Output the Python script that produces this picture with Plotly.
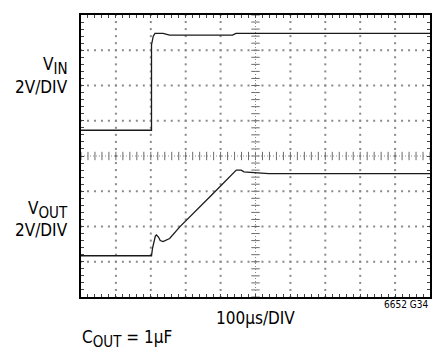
import numpy as np
import plotly.graph_objects as go

# Scope capture: time in microseconds (100 us/div), traces in screen divisions (2 V/div)
t_vin_us = [0, 202, 202, 205, 207, 212, 235, 254, 434, 444, 1000]
vin_div = [4.73, 4.73, 7.15, 7.29, 7.40, 7.48, 7.48, 7.43, 7.43, 7.48, 7.48]

t_vout_us = [0, 202, 205, 209, 213, 216, 222, 227, 235, 254, 283, 373, 434, 445,
             459, 467, 496, 538, 1000]
vout_div = [1.17, 1.17, 1.39, 1.62, 1.73, 1.76, 1.70, 1.60, 1.57, 1.66, 1.99, 2.88,
            3.50, 3.60, 3.60, 3.55, 3.53, 3.50, 3.50]

x_divs = 10
y_divs = 8
minor = 0.2

label_font = "DejaVu Sans Condensed, Liberation Sans Narrow, Arial Narrow, sans-serif"

L, R, T, B = 81, 2, 15, 55
W, H = 434, 352
pw, ph = W - L - R, H - T - B


def px_x(px):
    return (px - L) / pw


def px_y(py):
    return (H - B - py) / ph


def sub(base, s, size=15):
    return f"{base}<sub><span style='font-size:{size}px'>{s}</span></sub>"


fig = go.Figure()

# graticule dots along major divisions
xs_minor = np.round(np.arange(0, x_divs * 100 + 1e-6, minor * 100), 6)
ys_minor = np.round(np.arange(0, y_divs + 1e-6, minor), 6)
gx, gy = [], []
for xv in range(1, x_divs):
    if xv == x_divs // 2:
        continue
    gx += [xv * 100] * len(ys_minor)
    gy += list(ys_minor)
for yv in range(1, y_divs):
    if yv == y_divs // 2:
        continue
    gx += list(xs_minor)
    gy += [yv] * len(xs_minor)
fig.add_trace(go.Scatter(x=gx, y=gy, mode="markers", hoverinfo="skip",
                         marker=dict(symbol="square", size=2, color="#8a8a8a",
                                     line=dict(width=0))))

# centre cross with minor tick marks
cx = x_divs // 2 * 100
cy = y_divs // 2
fig.add_trace(go.Scatter(x=list(xs_minor), y=[cy] * len(xs_minor), mode="markers",
                         hoverinfo="skip",
                         marker=dict(symbol="line-ns", size=6,
                                     line=dict(width=1, color="#6a6a6a"))))
fig.add_trace(go.Scatter(x=[cx] * len(ys_minor), y=list(ys_minor), mode="markers",
                         hoverinfo="skip",
                         marker=dict(symbol="line-ew", size=6,
                                     line=dict(width=1, color="#6a6a6a"))))
fig.add_trace(go.Scatter(x=[0, x_divs * 100], y=[cy, cy], mode="lines",
                         hoverinfo="skip",
                         line=dict(color="#8a8a8a", width=1, dash="1px,2px")))
fig.add_trace(go.Scatter(x=[cx, cx], y=[0, y_divs], mode="lines",
                         hoverinfo="skip",
                         line=dict(color="#8a8a8a", width=1, dash="1px,2px")))

# signal traces
fig.add_trace(go.Scatter(x=t_vin_us, y=vin_div, mode="lines",
                         line=dict(color="#1a1a1a", width=1.3)))
fig.add_trace(go.Scatter(x=t_vout_us, y=vout_div, mode="lines",
                         line=dict(color="#1a1a1a", width=1.3)))

axis_common = dict(showgrid=False, zeroline=False, showline=True, linewidth=2,
                   linecolor="black", mirror="ticks", ticks="inside", ticklen=3,
                   tickwidth=1, tickcolor="#444", showticklabels=False)
fig.update_xaxes(range=[0, x_divs * 100], dtick=minor * 100, tick0=0, **axis_common)
fig.update_yaxes(range=[0, y_divs], dtick=minor, tick0=0, **axis_common)

ann = [
    dict(text=sub("V", "IN"), x=px_x(70), y=px_y(66), xanchor="right",
         yanchor="middle", font=dict(size=17)),
    dict(text="2V/DIV", x=px_x(70), y=px_y(87), xanchor="right",
         yanchor="middle", font=dict(size=17)),
    dict(text=sub("V", "OUT"), x=px_x(70), y=px_y(210), xanchor="right",
         yanchor="middle", font=dict(size=17)),
    dict(text="2V/DIV", x=px_x(70), y=px_y(230), xanchor="right",
         yanchor="middle", font=dict(size=17)),
    dict(text="100µs/DIV", x=px_x(257), y=px_y(318), xanchor="center",
         yanchor="middle", font=dict(size=17)),
    dict(text="6652 G34", x=px_x(432), y=px_y(304), xanchor="right",
         yanchor="middle", font=dict(size=10)),
    dict(text=sub("C", "OUT") + " = 1µF", x=px_x(80), y=px_y(339), xanchor="left",
         yanchor="middle", font=dict(size=17)),
]
for a in ann:
    a.update(xref="paper", yref="paper", showarrow=False)
    a["font"].update(family=label_font, color="black")

fig.update_layout(width=W, height=H, margin=dict(l=L, r=R, t=T, b=B),
                  paper_bgcolor="white", plot_bgcolor="white", showlegend=False,
                  annotations=ann)

fig.write_html("out.html")
